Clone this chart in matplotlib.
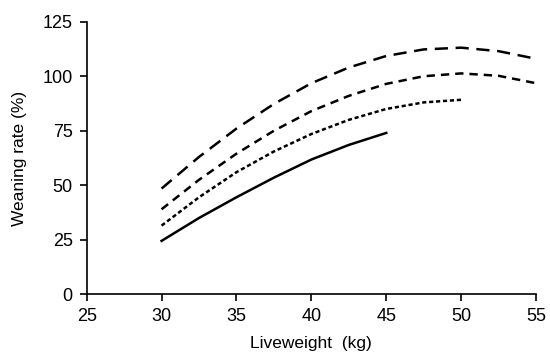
import matplotlib
matplotlib.use("Agg")
import matplotlib.pyplot as plt

plt.rcParams['font.family'] = ['Liberation Sans', 'DejaVu Sans']
plt.rcParams['lines.scale_dashes'] = False

x_long = [30, 32.5, 35, 37.5, 40, 42.5, 45, 47.5, 50, 52.5, 55]
y_long = [48.5, 63, 76, 87.3, 96.8, 104, 109.3, 112.3, 113.1, 111.5, 108]

x_med = [30, 32.5, 35, 37.5, 40, 42.5, 45, 47.5, 50, 52.5, 55]
y_med = [39, 52.5, 64.5, 75, 84, 91, 96.5, 100, 101.3, 100.2, 96.8]

x_dot = [30, 32.5, 35, 37.5, 40, 42.5, 45, 47.5, 50]
y_dot = [31.5, 44.5, 56, 65.5, 73.5, 80, 85, 88, 89.2]

x_solid = [30, 32.5, 35, 37.5, 40, 42.5, 45]
y_solid = [24.5, 35, 44.5, 53.5, 61.8, 68.5, 74]

xticks = [25, 30, 35, 40, 45, 50, 55]
yticks = [0, 25, 50, 75, 100, 125]

fig = plt.figure(figsize=(5.5, 3.62), dpi=100)
ax = fig.add_axes([0.1576, 0.187, 0.817, 0.753])

lw = 1.8
ax.plot(x_long, y_long, color='black', lw=lw, dashes=(9.5, 5.5), dash_capstyle='butt')
ax.plot(x_med, y_med, color='black', lw=lw, dashes=(6.0, 4.3), dash_capstyle='butt')
ax.plot(x_dot, y_dot, color='black', lw=lw, dashes=(3.0, 2.0), dash_capstyle='butt')
ax.plot(x_solid, y_solid, color='black', lw=lw)

ax.set_xlim(25, 55)
ax.set_ylim(0, 125)
ax.set_xticks(xticks)
ax.set_yticks(yticks)
for s in ['top', 'right']:
    ax.spines[s].set_visible(False)
for s in ['left', 'bottom']:
    ax.spines[s].set_linewidth(1.2)
    ax.spines[s].set_color('black')
ax.tick_params(direction='out', length=5, width=1.2, labelsize=13, colors='black', pad=5)
ax.set_xlabel('Liveweight  (kg)', fontsize=12.5, labelpad=8)
ax.set_ylabel('Weaning rate (%)', fontsize=12.5, labelpad=11)

fig.savefig('out.png', dpi=100)
